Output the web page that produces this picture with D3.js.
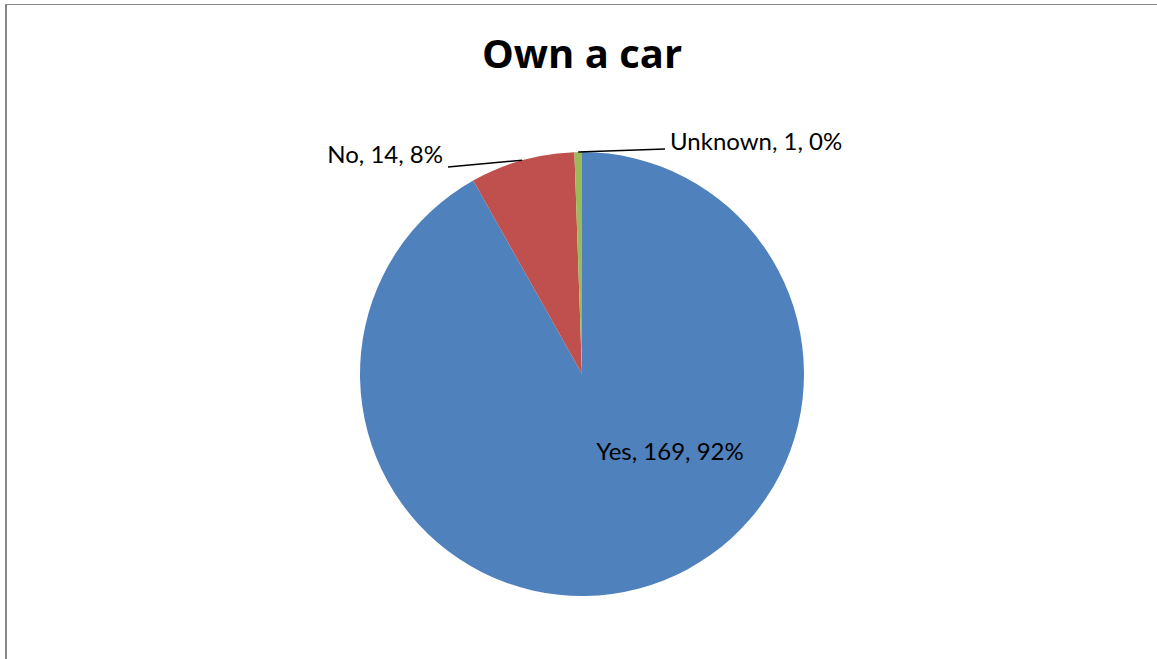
<!DOCTYPE html>
<html>
<head>
<meta charset="utf-8">
<script src="https://cdn.jsdelivr.net/npm/d3@7"></script>
<style>
  html, body { margin: 0; padding: 0; background: #fff; }
  svg { display: block; }
  text { font-family: Lato, "Liberation Sans", sans-serif; fill: #000; }
</style>
</head>
<body>
<script>
// Survey answers to "Own a car"
const categories = ["Yes", "No", "Unknown"];
const counts = [169, 14, 1];
const percentLabels = ["92%", "8%", "0%"];
const colors = ["#4F81BD", "#C0504D", "#9BBB59"];
const title = "Own a car";

const W = 1157, H = 659;
const cx = 582, cy = 374, R = 222;

const svg = d3.select("body").append("svg")
  .attr("width", W).attr("height", H);

// chart frame
svg.append("line").attr("x1", 5.5).attr("x2", W).attr("y1", 4.5).attr("y2", 4.5)
  .attr("stroke", "#878787").attr("stroke-width", 1.2);
svg.append("line").attr("x1", 6).attr("x2", 6).attr("y1", 4).attr("y2", H)
  .attr("stroke", "#878787").attr("stroke-width", 2);

svg.append("text")
  .attr("x", cx).attr("y", 68)
  .attr("text-anchor", "middle")
  .style("font-family", "'Open Sans', 'Liberation Sans', sans-serif")
  .style("font-weight", "bold")
  .style("font-size", "40px")
  .text(title);

const data = categories.map((c, i) => ({ name: c, value: counts[i], pct: percentLabels[i], color: colors[i] }));

const pie = d3.pie().value(d => d.value).sort(null);
const arcs = pie(data);
const arc = d3.arc().innerRadius(0).outerRadius(R);

const g = svg.append("g").attr("transform", `translate(${cx},${cy})`);
g.selectAll("path.slice").data(arcs).join("path")
  .attr("class", "slice")
  .attr("d", arc)
  .attr("fill", d => d.data.color);

const label = d => `${d.data.name}, ${d.data.value}, ${d.data.pct}`;
const fontSize = 24;

// inside label for the large slice
g.append("text")
  .attr("x", 88).attr("y", 86)
  .attr("text-anchor", "middle")
  .style("font-size", fontSize + "px")
  .text(label(arcs[0]));

// outside labels with leader lines from the slice's mid-point on the rim
const outside = [
  { a: arcs[1], end: [-134, -207], tx: -139, ty: -211, anchor: "end" },
  { a: arcs[2], end: [83, -225], tx: 88, ty: -224, anchor: "start" }
];
outside.forEach(o => {
  const mid = (o.a.startAngle + o.a.endAngle) / 2;
  const px = R * Math.sin(mid), py = -R * Math.cos(mid);
  g.append("line")
    .attr("x1", px).attr("y1", py)
    .attr("x2", o.end[0]).attr("y2", o.end[1])
    .attr("stroke", "#000").attr("stroke-width", 1.5);
  g.append("text")
    .attr("x", o.tx).attr("y", o.ty)
    .attr("text-anchor", o.anchor)
    .style("font-size", fontSize + "px")
    .text(label(o.a));
});
</script>
</body>
</html>
